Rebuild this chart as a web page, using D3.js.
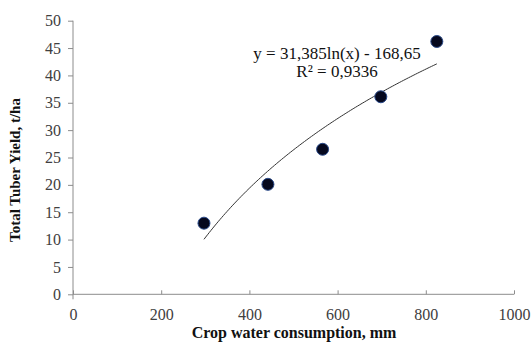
<!DOCTYPE html>
<html>
<head>
<meta charset="utf-8">
<script src="https://cdn.jsdelivr.net/npm/d3@7"></script>
<style>
  html, body { margin: 0; padding: 0; background: #fff; }
  svg { display: block; }
</style>
</head>
<body>
<svg id="chart" width="532" height="347"></svg>
<script>
// Data
const waterUse = [297, 442, 566, 698, 825];
const tuberYield = [13.0, 20.1, 26.5, 36.1, 46.2];
const xTicks = [0, 200, 400, 600, 800, 1000];
const yTicks = [0, 5, 10, 15, 20, 25, 30, 35, 40, 45, 50];
const trendA = 31.385, trendB = -168.65;
const trendRange = [297, 825];
const equationLines = ["y = 31,385ln(x) - 168,65", "R² = 0,9336"];
const xTitle = "Crop water consumption, mm";
const yTitle = "Total Tuber Yield, t/ha";

const svg = d3.select("#chart");
const x = d3.scaleLinear().domain([0, 1000]).range([73, 514]);
const y = d3.scaleLinear().domain([0, 50]).range([294.3, 20.7]);
const font = "'Liberation Serif', 'Times New Roman', serif";
const axisColor = "#8c8c8c";

// Y axis
const yAxis = svg.append("g").attr("transform", `translate(${x(0)},0)`)
  .call(d3.axisLeft(y).tickValues(yTicks).tickSize(5).tickPadding(7).tickFormat(d3.format("d")));
yAxis.select(".domain").attr("stroke", axisColor).attr("d", `M0,${y(50)}V${y(0) + 5}`);
yAxis.selectAll(".tick line").attr("stroke", axisColor);
yAxis.selectAll("text").attr("font-family", font).attr("font-size", 16).attr("fill", "#404040");

// X axis
const xAxis = svg.append("g").attr("transform", `translate(0,${y(0)})`)
  .call(d3.axisBottom(x).tickValues(xTicks).tickSize(-4).tickPadding(14).tickFormat(d3.format("d")));
xAxis.select(".domain").attr("stroke", axisColor).attr("d", `M${x(0)},0H${x(1000)}`);
xAxis.selectAll(".tick line").attr("stroke", axisColor);
xAxis.selectAll("text").attr("font-family", font).attr("font-size", 16).attr("fill", "#404040");

// Trendline
const trendX = d3.range(trendRange[0], trendRange[1] + 1, 4);
const line = d3.line().x(d => x(d)).y(d => y(trendA * Math.log(d) + trendB)).curve(d3.curveLinear);
svg.append("path").datum(trendX).attr("d", line)
  .attr("fill", "none").attr("stroke", "#333").attr("stroke-width", 1);

// Points
svg.append("g").selectAll("circle").data(waterUse).join("circle")
  .attr("cx", d => x(d)).attr("cy", (d, i) => y(tuberYield[i])).attr("r", 6)
  .attr("fill", "#05081e").attr("stroke", "#2a4a8a").attr("stroke-width", 1);

// Equation
svg.append("g").selectAll("text").data(equationLines).join("text")
  .attr("x", 337).attr("y", (d, i) => 59 + i * 18)
  .attr("text-anchor", "middle").attr("font-family", font).attr("font-size", 17).attr("fill", "#111")
  .text(d => d);

// Titles
svg.append("text").attr("x", 294).attr("y", 338).attr("text-anchor", "middle")
  .attr("font-family", font).attr("font-size", 16).attr("font-weight", "bold").attr("fill", "#111")
  .text(xTitle);
svg.append("text").attr("transform", "translate(20,170) rotate(-90)").attr("text-anchor", "middle")
  .attr("font-family", font).attr("font-size", 15).attr("font-weight", "bold").attr("fill", "#111")
  .text(yTitle);
</script>
</body>
</html>
